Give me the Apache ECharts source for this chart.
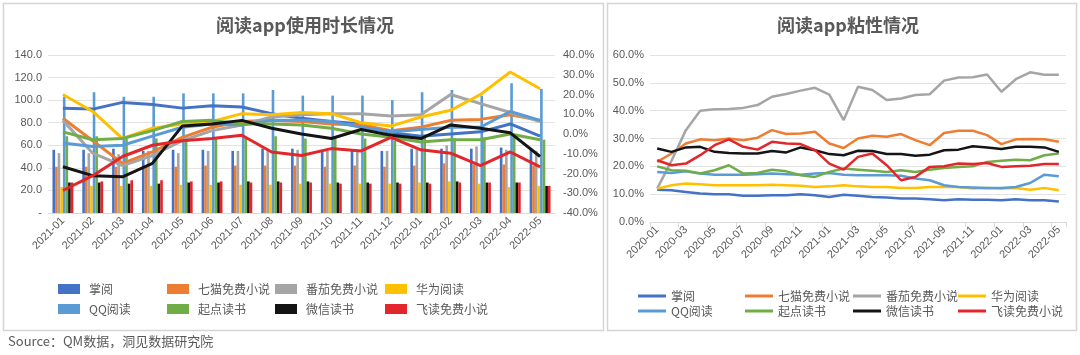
<!DOCTYPE html>
<html><head><meta charset="utf-8">
<script src="https://cdn.jsdelivr.net/npm/echarts@6/dist/echarts.min.js"></script>
<style>html,body{margin:0;padding:0;background:#fff}#c{width:1080px;height:355px}</style>
</head><body><div id="c"></div>
<script>
const names = ['掌阅','七猫免费小说','番茄免费小说','华为阅读','QQ阅读','起点读书','微信读书','飞读免费小说'];
const colors = ['#4472C4','#ED7D31','#A5A5A5','#FFC000','#5B9BD5','#70AD47','#141414','#E3262B'];

const months1 = ['2021-01','2021-02','2021-03','2021-04','2021-05','2021-06','2021-07','2021-08','2021-09','2021-10','2021-11','2021-12','2022-01','2022-02','2022-03','2022-04','2022-05'];
const months2 = ['2020-01','2020-02','2020-03','2020-04','2020-05','2020-06','2020-07','2020-08','2020-09','2020-10','2020-11','2020-12','2021-01','2021-02','2021-03','2021-04','2021-05','2021-06','2021-07','2021-08','2021-09','2021-10','2021-11','2021-12','2022-01','2022-02','2022-03','2022-04','2022-05'];

const leftTicks = {min:0, max:140, interval:20};
const rightTicks = {min:-40, max:40, interval:10};
const stickTicks = {min:0, max:60, interval:10};

// 使用时长 (bars, left axis)
const barZhangyue = [56,56,57,55,56,56,55,57,57,56,55,55,57,57,57,58,56];
const barQimao    = [41,41,41,42,41,42,42,42,42,41,42,41,42,44,43,43,42];
const barFanqie   = [53,53,52,55,53,55,55,56,56,55,56,55,56,60,59,56,55];
const barHuawei   = [23,24,24,24,25,25,25,25,26,26,26,26,27,28,26,23,24];
const barQQ       = [103,107,103,103,106,106,106,109,104,104,104,100,107,109,104,115,110];
const barQidian   = [68,68,66,66,67,67,67,68,66,68,66,64,67,66,67,68,65];
const barWeixin   = [27,27,26,26,27,27,28,28,28,27,27,27,27,28,27,27,24];
const barFeidu    = [27,28,29,29,28,28,27,27,27,26,26,26,26,27,27,27,24];

// 变化 (lines, right axis, %)
const lineZhangyue = [13.1,12.6,16.0,14.9,13.1,14.3,13.7,10.3,8.0,6.3,5.1,0.6,-1.1,0.0,1.1,5.1,-1.1];
const lineQimao    = [8.0,-3.4,-14.9,-9.1,-1.7,3.4,6.3,6.9,6.3,5.1,4.6,1.7,3.4,6.9,7.4,9.7,6.9];
const lineFanqie   = [6.9,-9.7,-16.0,-10.9,-3.4,1.7,4.6,8.6,9.7,10.3,10.3,9.1,9.7,20.0,15.4,10.9,6.3];
const lineHuawei   = [20.0,11.4,-2.3,2.9,5.1,6.3,10.3,9.7,10.9,10.3,5.7,4.0,8.6,12.0,20.0,31.4,22.9];
const lineQQ       = [-4.6,-6.3,-5.7,-1.1,3.4,5.1,4.6,6.9,6.9,6.3,3.4,1.1,2.3,3.4,3.4,11.4,6.9];
const lineQidian   = [1.1,-2.9,-2.3,1.7,6.3,6.9,5.1,5.1,4.6,2.9,0.0,-1.7,-4.0,-2.9,-2.9,0.0,-2.9];
const lineWeixin   = [-16.6,-21.1,-21.7,-14.9,4.0,5.1,6.9,2.9,0.0,-2.3,2.3,-0.6,-2.3,4.6,2.9,0.6,-11.4];
const lineFeidu    = [-28.6,-21.1,-11.4,-5.7,-3.4,-2.3,-0.6,-9.1,-10.9,-7.4,-8.6,-1.7,-8.0,-9.7,-16.0,-9.1,-16.6];

// 粘性 (%)
const stZhangyue = [11.6,11.4,10.8,10.2,10.0,10.0,9.4,9.4,9.6,9.6,10.0,9.6,9.0,9.8,9.4,9.0,8.8,8.4,8.4,8.2,7.8,8.2,8.0,8.0,7.8,8.2,7.8,7.8,7.4];
const stQimao    = [21.6,24.6,28.2,29.7,29.4,30.0,29.4,30.3,33.0,31.6,31.8,32.4,28.2,26.6,30.0,31.0,30.6,31.6,29.4,27.6,32.0,32.8,32.8,31.2,28.0,29.7,29.8,29.7,28.8];
const stFanqie   = [12.0,22.0,33.0,40.0,40.5,40.6,41.0,42.0,45.0,46.0,47.2,48.2,45.8,36.6,48.6,47.4,43.8,44.4,45.6,45.9,50.8,51.9,52.0,53.0,46.8,51.3,53.8,52.9,52.9];
const stHuawei   = [12.0,13.2,13.8,13.6,13.2,13.2,13.2,13.2,13.4,13.2,13.0,12.6,12.8,13.2,12.8,12.6,12.6,12.2,12.2,12.6,12.6,12.6,12.0,12.2,12.0,12.2,11.6,12.2,11.4];
const stQQ       = [18.0,17.6,18.2,17.4,17.0,17.0,17.0,17.2,17.4,17.2,17.0,17.4,17.6,17.0,16.8,16.8,16.8,16.6,15.6,15.0,13.2,12.6,12.4,12.2,12.2,12.6,14.0,17.0,16.4];
const stQidian   = [20.0,18.6,18.4,17.4,18.6,20.4,17.4,17.6,18.8,18.2,16.8,16.2,18.0,19.2,18.8,18.4,18.0,18.6,18.0,18.8,19.4,19.8,20.0,21.6,22.0,22.4,22.2,24.0,24.6];
const stWeixin   = [26.4,25.2,26.8,27.0,25.2,24.8,24.6,24.6,25.5,25.0,26.8,25.8,24.4,24.0,25.6,25.5,24.4,24.4,23.8,24.2,25.8,26.0,27.2,26.8,26.2,27.0,27.0,26.8,25.2];
const stFeidu    = [22.2,20.4,21.0,24.0,27.6,29.7,27.0,26.0,28.8,28.2,28.0,25.8,21.0,18.8,23.4,24.6,20.4,15.0,16.2,19.8,20.0,21.0,20.8,21.2,19.8,20.0,20.2,20.8,20.8];

const bars = [barZhangyue,barQimao,barFanqie,barHuawei,barQQ,barQidian,barWeixin,barFeidu];
const lines = [lineZhangyue,lineQimao,lineFanqie,lineHuawei,lineQQ,lineQidian,lineWeixin,lineFeidu];
const sticks = [stZhangyue,stQimao,stFanqie,stHuawei,stQQ,stQidian,stWeixin,stFeidu];

const FONT = "'Liberation Sans','Noto Sans CJK SC',sans-serif";
const CJK = "'Noto Sans CJK SC',sans-serif";
const labelColor = '#595959';

const series = [];
names.forEach((n,i)=>{
  series.push({type:'bar', name:n, xAxisIndex:0, yAxisIndex:0, data:bars[i],
    barGap:'0%', barCategoryGap:'30%', itemStyle:{color:colors[i]}, z:2});
});
names.forEach((n,i)=>{
  series.push({type:'line', name:n, xAxisIndex:0, yAxisIndex:1, data:lines[i],
    symbol:'none', lineStyle:{color:colors[i], width:3}, itemStyle:{color:colors[i]}, z:3});
});
names.forEach((n,i)=>{
  series.push({type:'line', name:n, xAxisIndex:1, yAxisIndex:2, data:sticks[i],
    symbol:'none', lineStyle:{color:colors[i], width:2.5}, itemStyle:{color:colors[i]}, z:3});
});

// legends: one column component per pair of names
const legends = [];
const leftCols = [53, 162, 270, 380];
const rightCols = [633, 740, 848, 953];
for (let c = 0; c < 4; c++) {
  legends.push({left:leftCols[c], top:278, orient:'vertical', itemWidth:22, itemHeight:10, itemGap:8,
    icon:'rect', data:[names[c], names[c+4]],
    textStyle:{fontFamily:CJK, fontSize:12, color:labelColor, padding:[0,0,0,4]}});
  legends.push({left:rightCols[c], top:285, orient:'vertical', itemWidth:28, itemHeight:3, itemGap:3,
    icon:'rect', data:[names[c], names[c+4]],
    textStyle:{fontFamily:CJK, fontSize:12, color:labelColor}});
}

const chart = echarts.init(document.getElementById('c'), null, {renderer:'canvas'});
chart.setOption({
  animation:false,
  backgroundColor:'#fff',
  textStyle:{fontFamily:FONT},
  title:[
    {text:'阅读app使用时长情况', left:300, textAlign:'center', top:11,
      textStyle:{fontFamily:CJK, fontSize:18, fontWeight:'bold', color:'#595959'}},
    {text:'阅读app粘性情况', left:843, textAlign:'center', top:11,
      textStyle:{fontFamily:CJK, fontSize:18, fontWeight:'bold', color:'#595959'}}
  ],
  grid:[
    {left:48, right:525, top:55, height:158},
    {left:650, right:14, top:55, height:167}
  ],
  legend:legends,
  xAxis:[
    {type:'category', gridIndex:0, data:months1,
      axisLine:{lineStyle:{color:'#d9d9d9'}}, axisTick:{show:false},
      axisLabel:{rotate:45, fontSize:11, color:labelColor, margin:6, interval:0}},
    {type:'category', gridIndex:1, data:months2,
      axisLine:{lineStyle:{color:'#d9d9d9'}}, axisTick:{show:true, interval:1, lineStyle:{color:'#d9d9d9'}},
      axisLabel:{rotate:45, fontSize:11, color:labelColor, margin:6, interval:1}}
  ],
  yAxis:[
    {type:'value', gridIndex:0, min:leftTicks.min, max:leftTicks.max, interval:leftTicks.interval,
      axisLine:{show:false}, axisTick:{show:false},
      splitLine:{lineStyle:{color:'#e3e3e3'}},
      axisLabel:{fontSize:11, color:labelColor, margin:6, formatter:v=> v===0 ? '-' : v.toFixed(1)}},
    {type:'value', gridIndex:0, position:'right', min:rightTicks.min, max:rightTicks.max, interval:rightTicks.interval,
      axisLine:{show:false}, axisTick:{show:false}, splitLine:{show:false},
      axisLabel:{fontSize:11, color:labelColor, margin:8, formatter:v=> v.toFixed(1)+'%'}},
    {type:'value', gridIndex:1, min:stickTicks.min, max:stickTicks.max, interval:stickTicks.interval,
      axisLine:{show:false}, axisTick:{show:false},
      splitLine:{lineStyle:{color:'#e3e3e3'}},
      axisLabel:{fontSize:11, color:labelColor, margin:6, formatter:v=> v.toFixed(1)+'%'}}
  ],
  graphic:[
    {type:'rect', shape:{x:3.5, y:3.5, width:600, height:327}, style:{fill:'none', stroke:'#d4d4d4', lineWidth:1.5}, silent:true},
    {type:'rect', shape:{x:607.5, y:3.5, width:469, height:327}, style:{fill:'none', stroke:'#d4d4d4', lineWidth:1.5}, silent:true},
    {type:'text', left:8, top:335, style:{text:'Source：QM数据，洞见数据研究院', fill:'#595959', font:"13px 'Noto Sans CJK SC',sans-serif"}}
  ],
  series:series
});
</script></body></html>
